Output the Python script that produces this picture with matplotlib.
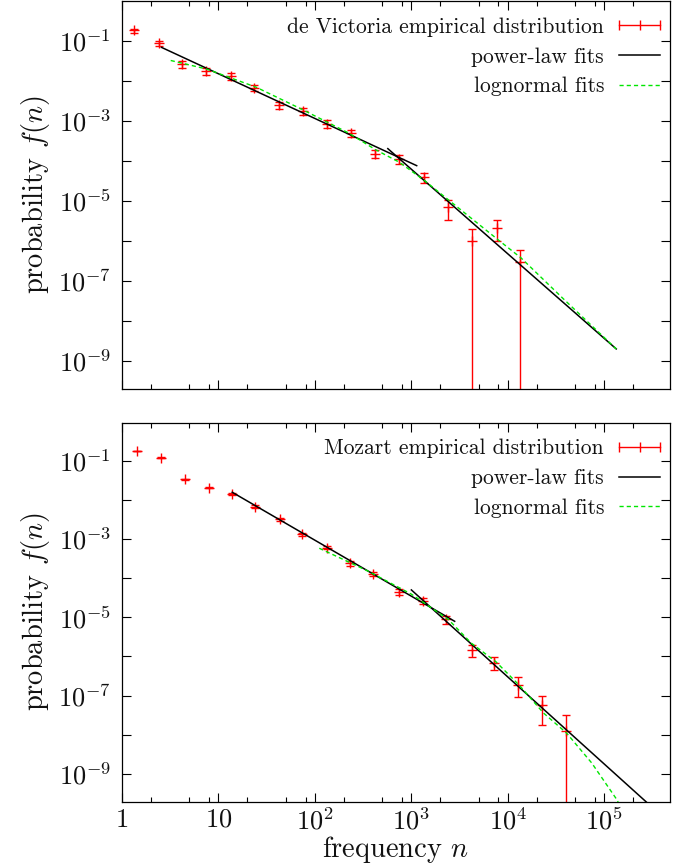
import numpy as np
import matplotlib
matplotlib.use("Agg")
import matplotlib.pyplot as plt
from matplotlib.lines import Line2D
from matplotlib.ticker import FixedLocator, FuncFormatter, NullFormatter

plt.rcParams['font.family'] = ['cmr10', 'DejaVu Serif']
plt.rcParams['mathtext.fontset'] = 'cm'
plt.rcParams['axes.unicode_minus'] = False

# ---------------- data: de Victoria (top) ----------------
vic_n = [1.33, 2.4, 4.2, 7.5, 13.4, 23.5, 42.6, 75, 134, 239, 422, 752,
         1352, 2405, 4255, 7640, 13500]
vic_f = [0.18, 0.087, 0.026, 0.017, 0.0128, 0.0067, 0.0025, 0.0017, 8.4e-4,
         4.9e-4, 1.5e-4, 1.1e-4, 3.9e-5, 6.9e-6, 9.6e-7, 2.1e-6, 2.9e-7]
vic_df = [0.02, 0.014, 0.005, 0.0032, 0.0024, 0.0013, 0.0005, 0.00032, 1.9e-4,
          1.0e-4, 3.6e-5, 2.6e-5, 1.1e-5, 3.7e-6, 9.6e-7, 1.1e-6, 3.0e-7]
vic_pl1_n = [2.57, 1135]
vic_pl1_f = [0.068, 7.5e-5]
vic_pl2_n = [570, 1.33e5]
vic_pl2_f = [2.0e-4, 1.96e-9]
vic_ln_n = [3.2, 7.5, 24.5, 74, 224, 422, 752, 1340, 2405, 7890, 13700,
            38400, 1.33e5]
vic_ln_f = [0.032, 0.0196, 0.0069, 0.0019, 4.9e-4, 1.9e-4, 9.1e-5, 3.3e-5,
            1.06e-5, 1.06e-6, 3.7e-7, 3.35e-8, 1.96e-9]

# ---------------- data: Mozart (bottom) ----------------
moz_n = [1.44, 2.55, 4.5, 7.9, 13.9, 24, 43, 74, 132, 232, 404, 751, 1330,
         2290, 4240, 7180, 12770, 22700, 40400]
moz_f = [0.177, 0.119, 0.034, 0.0205, 0.0141, 0.0067, 0.0032, 0.00133, 6.0e-4,
         2.4e-4, 1.28e-4, 4.5e-5, 2.6e-5, 8.8e-6, 1.46e-6, 7.0e-7, 1.9e-7,
         5.9e-8, 1.27e-8]
moz_df = [0.004, 0.003, 0.001, 0.0007, 0.0007, 0.0005, 0.0003, 0.00013, 6e-5,
          3e-5, 1.5e-5, 7.6e-6, 4.4e-6, 1.9e-6, 5.0e-7, 2.6e-7, 1.0e-7,
          4.1e-8, 1.9e-8]
moz_pl1_n = [13.9, 2810]
moz_pl1_f = [0.0156, 7.9e-6]
moz_pl2_n = [1000, 3e5]
moz_pl2_f = [5.0e-5, 1.55e-10]
moz_ln_n = [111, 348, 1000, 2430, 4170, 7530, 13250, 23400, 40700, 74100,
            1.35e5, 1.5e5]
moz_ln_f = [5.8e-4, 1.55e-4, 3.9e-5, 8.7e-6, 2.2e-6, 7.3e-7, 1.8e-7, 3.6e-8,
            1.1e-8, 1.9e-9, 2.2e-10, 1.3e-10]

panels = [
    ("de Victoria empirical distribution", vic_n, vic_f, vic_df,
     [(vic_pl1_n, vic_pl1_f), (vic_pl2_n, vic_pl2_f)], (vic_ln_n, vic_ln_f)),
    ("Mozart empirical distribution", moz_n, moz_f, moz_df,
     [(moz_pl1_n, moz_pl1_f), (moz_pl2_n, moz_pl2_f)], (moz_ln_n, moz_ln_f)),
]

W, H = 673, 867
fig = plt.figure(figsize=(W / 100, H / 100), dpi=100)

def fx(px):
    return px / W

def fy(py):
    return 1 - py / H

# axes rectangles in pixels: left, top, right, bottom
rects = [(122, 1, 670, 389), (122, 422.7, 670, 801.7)]
ylims = [(10 ** -9.71, 10 ** -0.0075), (10 ** -9.71, 10 ** -0.03)]

RED = '#ff0000'
GREEN = '#00e600'
TXT = '#111111'
TICK_FS = 19
LAB_FS = 20.5
LEG_FS = 15.5

for i, (name, n, f, df, pls, ln) in enumerate(panels):
    l, t, r, b = rects[i]
    ax = fig.add_axes([fx(l), fy(b), fx(r) - fx(l), fy(t) - fy(b)])
    ax.set_xscale('log')
    ax.set_yscale('log')
    ax.set_xlim(1, 4.8e5)
    ax.set_ylim(*ylims[i])

    n = np.array(n); f = np.array(f); df = np.array(df)
    lower = np.where(f - df > 0, df, f - 1e-14)
    ax.errorbar(n, f, yerr=[lower, df], fmt='+', color=RED, ms=7, mew=1.0,
                elinewidth=1.0, capsize=3.0, capthick=1.0, zorder=2)
    for pn, pf in pls:
        ax.plot(pn, pf, color='black', lw=1.1, zorder=3)
    ax.plot(ln[0], ln[1], color=GREEN, lw=1.0, dashes=(3, 2.2), zorder=4)

    # ticks
    ax.xaxis.set_major_locator(FixedLocator([10.0 ** k for k in range(0, 6)]))
    minors = [m * 10.0 ** k for k in range(0, 6) for m in (2, 5, 8)]
    ax.xaxis.set_minor_locator(FixedLocator(minors))
    ax.xaxis.set_minor_formatter(NullFormatter())
    ax.yaxis.set_major_locator(FixedLocator([10.0 ** k for k in range(-10, 1)]))
    ax.yaxis.set_minor_locator(FixedLocator([]))

    def yfmt(v, pos):
        e = int(round(np.log10(v)))
        if e % 2 == 0:
            return ''
        return r'$10^{%d}$' % e
    ax.yaxis.set_major_formatter(FuncFormatter(yfmt))

    def xfmt(v, pos):
        e = int(round(np.log10(v)))
        if e == 0:
            return r'$1$'
        if e == 1:
            return r'$10$'
        return r'$10^{%d}$' % e
    if i == 1:
        ax.xaxis.set_major_formatter(FuncFormatter(xfmt))
    else:
        ax.xaxis.set_major_formatter(NullFormatter())

    ax.tick_params(which='both', direction='in', top=True, right=True,
                   width=0.8, colors='black', labelcolor=TXT,
                   labelsize=TICK_FS)
    ax.tick_params(which='major', length=6.5)
    ax.tick_params(axis='y', which='major', pad=8)
    ax.tick_params(axis='x', which='major', pad=4.5)
    ax.tick_params(which='minor', length=3.3)
    for s in ax.spines.values():
        s.set_linewidth(0.9)

    # legend (manual, gnuplot style)
    rows = [t + 24, t + 54, t + 83.5]
    xt = 604
    xs0, xs1 = 619, 660
    labels = [name, 'power-law fits', 'lognormal fits']
    for k, lab in enumerate(labels):
        fig.text(fx(xt), fy(rows[k]), lab, ha='right', va='center_baseline',
                 fontsize=LEG_FS, color=TXT)
    yy = fy(rows[0])
    fig.add_artist(Line2D([fx(xs0), fx(xs1)], [yy, yy], color=RED, lw=1.0))
    fig.add_artist(Line2D([fx(xs0), fx((xs0 + xs1) / 2), fx(xs1)], [yy] * 3,
                          color=RED, lw=0, marker='|', ms=7, mew=1.0))
    yy = fy(rows[1])
    fig.add_artist(Line2D([fx(xs0), fx(xs1)], [yy, yy], color='black', lw=1.1))
    yy = fy(rows[2])
    fig.add_artist(Line2D([fx(xs0), fx(xs1)], [yy, yy], color=GREEN, lw=1.0,
                          dashes=(3, 2.2)))

    fig.text(fx(36), fy((t + b) / 2), r'probability $f(n)$', rotation=90,
             ha='center', va='center', fontsize=LAB_FS, color=TXT)

fig.text(fx(396), fy(857), r'frequency $n$', ha='center', va='baseline',
         fontsize=LAB_FS, color=TXT)

fig.savefig('out.png', dpi=100)
